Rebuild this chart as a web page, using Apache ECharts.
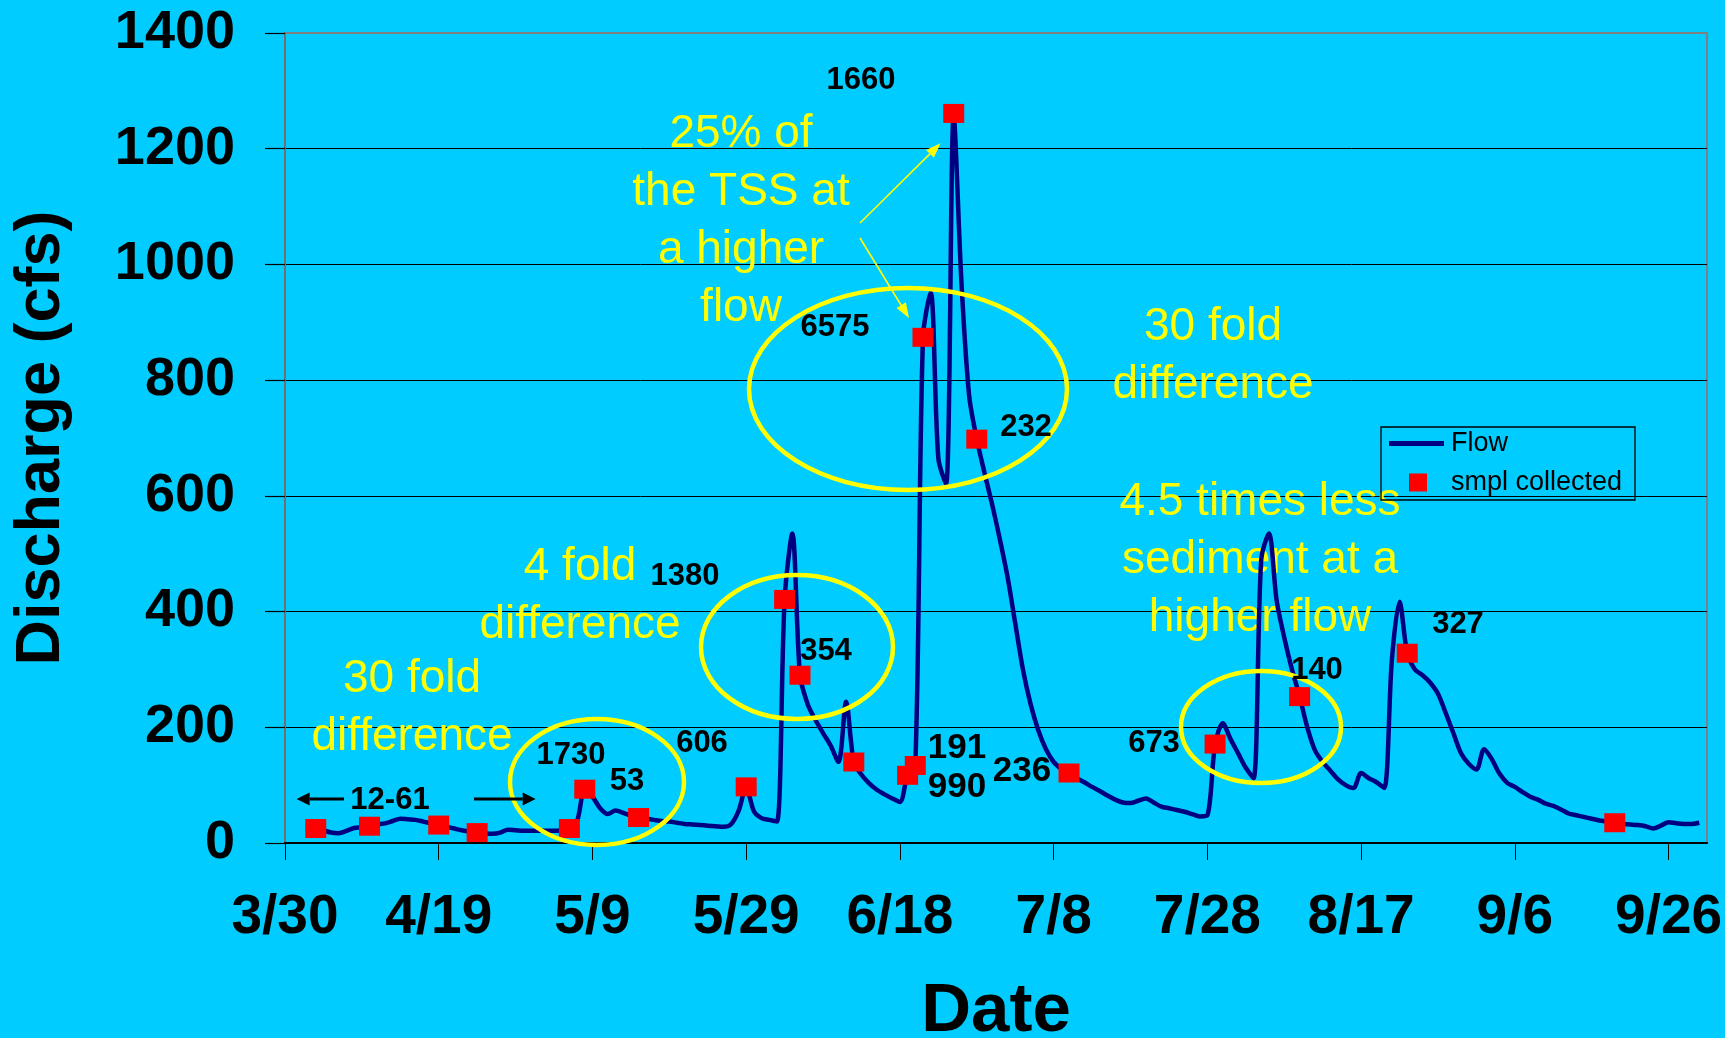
<!DOCTYPE html>
<html>
<head>
<meta charset="utf-8">
<script src="https://cdn.jsdelivr.net/npm/echarts@6/dist/echarts.min.js"></script>
<style>
  html, body { margin: 0; padding: 0; background: #00CCFF; overflow: hidden; }
  #chart { width: 1725px; height: 1038px; }
</style>
</head>
<body>
<div id="chart"></div>
<script>
// ---------------- DATA ----------------
const axisStartDate = '3/30';
const tickLabels = ['3/30', '4/19', '5/9', '5/29', '6/18', '7/8', '7/28', '8/17', '9/6', '9/26'];
const yTickValues = [0, 200, 400, 600, 800, 1000, 1200, 1400];

// daily discharge (cfs), first value on 4/3, last on 9/30
const flowFirstDate = '4/3';
const flowValues = [
  25, 22, 18, 17, 21, 26, 27, 29, 32, 34, 38, 42, 41, 40, 37, 34, 31, 28, 25, 22,
  20, 19, 17, 16, 18, 23, 22, 21, 21, 21, 21, 21, 22, 25, 38, 92, 80, 60, 50, 56,
  52, 47, 44, 42, 40, 38, 37, 35, 33, 32, 31, 30, 29, 28, 32, 55, 96, 55, 43, 40,
  37, 421, 535, 290, 240, 213, 190, 168, 140, 244, 140, 118, 103, 92, 84, 77, 71, 118, 135, 874,
  952, 665, 620, 1258, 970, 774, 698, 640, 585, 525, 460, 380, 300, 240, 195, 162, 140, 128, 120, 112,
  105, 97, 90, 82, 75, 70, 69, 73, 77, 70, 63, 60, 57, 54, 50, 46, 48, 170, 207, 180,
  155, 130, 112, 489, 535, 420, 355, 300, 253, 200, 160, 140, 125, 110, 100, 95, 121, 112, 105, 95,
  316, 417, 328, 300, 290, 277, 258, 225, 190, 155, 137, 127, 162, 145, 120, 104, 97, 88, 80, 75,
  68, 64, 58, 51, 48, 45, 42, 39, 37, 35, 33, 32, 31, 29, 25, 30, 36, 34, 33, 33,
  35
];

// samples collected
const sampleDates  = ['4/3', '4/10', '4/19', '4/24', '5/6', '5/8', '5/15', '5/29', '6/3', '6/5', '6/12',
                      '6/19', '6/20', '6/21', '6/25', '6/28', '7/10', '7/29', '8/9', '8/23', '9/19'];
const sampleValues = [25, 29, 31, 18, 25, 93, 44, 97, 421, 290, 140,
                      117, 134, 874, 1261, 698, 121, 171, 253, 328, 35];

// ---------------- HELPERS ----------------
const FONT = '"Liberation Sans", Arial, Helvetica, sans-serif';
function dayOf(md) {
  const [m, d] = md.split('/').map(Number);
  const [m0, d0] = axisStartDate.split('/').map(Number);
  return Math.round((Date.UTC(2003, m - 1, d) - Date.UTC(2003, m0 - 1, d0)) / 864e5);
}
const flowStart = dayOf(flowFirstDate);
const flowData = flowValues.map((v, i) => [flowStart + i, v]);
const sampleData = sampleDates.map((d, i) => [dayOf(d), sampleValues[i]]);

function arrow(x1, y1, x2, y2, color, lw, hl, hw, z) {
  const dx = x2 - x1, dy = y2 - y1, L = Math.hypot(dx, dy);
  const ux = dx / L, uy = dy / L;
  const bx = x2 - ux * hl, by = y2 - uy * hl;
  const px = -uy, py = ux;
  return [
    { type: 'line', z: z, shape: { x1: x1, y1: y1, x2: bx, y2: by }, style: { stroke: color, lineWidth: lw } },
    { type: 'polygon', z: z, shape: { points: [[x2, y2], [bx + px * hw / 2, by + py * hw / 2], [bx - px * hw / 2, by - py * hw / 2]] },
      style: { fill: color } }
  ];
}
function txt(text, x, y, size, weight, color, lineHeight, z) {
  return {
    type: 'text', z: z, x: x, y: y,
    style: {
      text: text, fill: color,
      font: weight + ' ' + size + 'px ' + FONT,
      fontSize: size, fontWeight: weight, fontFamily: FONT,
      align: 'center', verticalAlign: 'middle',
      textAlign: 'center', textVerticalAlign: 'middle',
      lineHeight: lineHeight || size
    }
  };
}
function ell(cx, cy, rx, ry) {
  return { type: 'ellipse', z: 20, shape: { cx: cx, cy: cy, rx: rx, ry: ry },
           style: { fill: 'transparent', stroke: '#FFFF00', lineWidth: 4.5 } };
}

// ---------------- ANNOTATIONS ----------------
const blackNotes = [
  ['1660', 861, 80, 31], ['6575', 835, 327, 31], ['232', 1026, 427, 31], ['1380', 685, 576, 31],
  ['354', 826, 651, 31], ['606', 702, 743, 31], ['1730', 571, 755, 31], ['53', 627, 781, 31],
  ['12-61', 390, 800, 31], ['191', 957, 748, 35], ['990', 957, 787, 35], ['236', 1022, 771, 35],
  ['673', 1154, 743, 31], ['140', 1317, 670, 31], ['327', 1458, 624, 31]
];
const yellowNotes = [
  ['25% of\nthe TSS at\na higher\nflow', 741, 221],
  ['30 fold\ndifference', 1213, 356],
  ['4 fold\ndifference', 580, 596],
  ['30 fold\ndifference', 412, 708],
  ['4.5 times less\nsediment at a\nhigher flow', 1260, 560]
];

let graphics = [];
yellowNotes.forEach(n => graphics.push(txt(n[0], n[1], n[2], 46, 'normal', '#FFFF00', 58, 1)));
graphics.push(ell(908, 389, 159, 101));
graphics.push(ell(797, 647, 96, 72));
graphics.push(ell(597, 782, 87, 63));
graphics.push(ell(1261, 727, 80, 56));
graphics = graphics.concat(arrow(860, 223, 940.6, 143.3, '#FFFF00', 1.6, 15, 11, 20));
graphics = graphics.concat(arrow(860, 238, 909, 318, '#FFFF00', 1.6, 15, 11, 20));
graphics = graphics.concat(arrow(344, 799, 296.6, 799, '#000000', 3, 13, 13, 20));
graphics = graphics.concat(arrow(474, 799, 535.7, 799, '#000000', 3, 13, 13, 20));
blackNotes.forEach(n => graphics.push(txt(n[0], n[1], n[2], n[3], 'bold', '#000000', n[3], 21)));
graphics.push({ type: 'rect', z: 21, shape: { x: 1381, y: 427, width: 254, height: 73 },
                style: { fill: 'transparent', stroke: '#000000', lineWidth: 1.3 } });

// ---------------- CHART ----------------
const chart = echarts.init(document.getElementById('chart'), null, { renderer: 'canvas' });
chart.setOption({
  backgroundColor: '#00CCFF',
  animation: false,
  textStyle: { fontFamily: FONT },
  grid: {
    left: 285, right: 18, top: 33, bottom: 195,
    containLabel: false, outerBoundsMode: 'none',
    show: true, borderColor: '#808080', borderWidth: 2, backgroundColor: 'transparent'
  },
  xAxis: {
    type: 'value', min: 0, max: 185, interval: 20,
    name: 'Date', nameLocation: 'middle', nameGap: 134,
    nameTextStyle: { fontSize: 69, fontWeight: 'bold', color: '#000', fontFamily: FONT },
    axisLine: { show: true, onZero: false, lineStyle: { color: '#000', width: 2 } },
    axisTick: { show: true, inside: false, length: 17, lineStyle: { color: '#000', width: 1 } },
    axisLabel: {
      margin: 47, fontSize: 55, fontWeight: 'bold', color: '#000', fontFamily: FONT,
      showMaxLabel: false, hideOverlap: false,
      formatter: function (v) { const i = Math.round(v / 20); return (v % 20 === 0 && tickLabels[i]) ? tickLabels[i] : ''; }
    },
    splitLine: { show: false }
  },
  yAxis: {
    type: 'value', min: yTickValues[0], max: yTickValues[yTickValues.length - 1],
    interval: yTickValues[1] - yTickValues[0],
    name: 'Discharge (cfs)', nameLocation: 'middle', nameGap: 212, nameRotate: 90,
    nameTextStyle: { fontSize: 63, fontWeight: 'bold', color: '#000', fontFamily: FONT },
    axisLine: { show: true, lineStyle: { color: '#707070', width: 2 } },
    axisTick: { show: true, inside: false, length: 20, lineStyle: { color: '#000', width: 1.2 } },
    axisLabel: {
      margin: 50, fontSize: 54, fontWeight: 'bold', color: '#000', fontFamily: FONT,
      formatter: function (v) { return String(v); }
    },
    splitLine: { show: true, lineStyle: { color: ['#000', '#000', '#000', '#000', '#000', '#000', '#000', '#808080'], width: 1 } }
  },
  legend: [
    {
      data: [{ name: 'Flow', icon: 'rect', itemStyle: { color: '#000080' } }],
      left: 1389, top: 430, padding: 0, itemWidth: 55, itemHeight: 5,
      textStyle: { fontSize: 27, color: '#000', fontFamily: FONT, padding: [0, 0, 0, 2] }
    },
    {
      data: [{ name: 'smpl collected', icon: 'rect', itemStyle: { color: '#FF0000' } }],
      left: 1409, top: 469, padding: 0, itemWidth: 18, itemHeight: 18,
      textStyle: { fontSize: 27, color: '#000', fontFamily: FONT, padding: [0, 0, 0, 19] }
    }
  ],
  series: [
    {
      name: 'Flow', type: 'line', data: flowData, showSymbol: false, symbol: 'none',
      smooth: 0.3, z: 3,
      lineStyle: { color: '#000080', width: 4.5 },
      itemStyle: { color: '#000080' }
    },
    {
      name: 'smpl collected', type: 'scatter', data: sampleData, symbol: 'rect', symbolSize: [21, 19], z: 4,
      itemStyle: { color: '#FF0000', opacity: 1 }
    }
  ],
  graphic: { elements: graphics }
});
</script>
</body>
</html>
